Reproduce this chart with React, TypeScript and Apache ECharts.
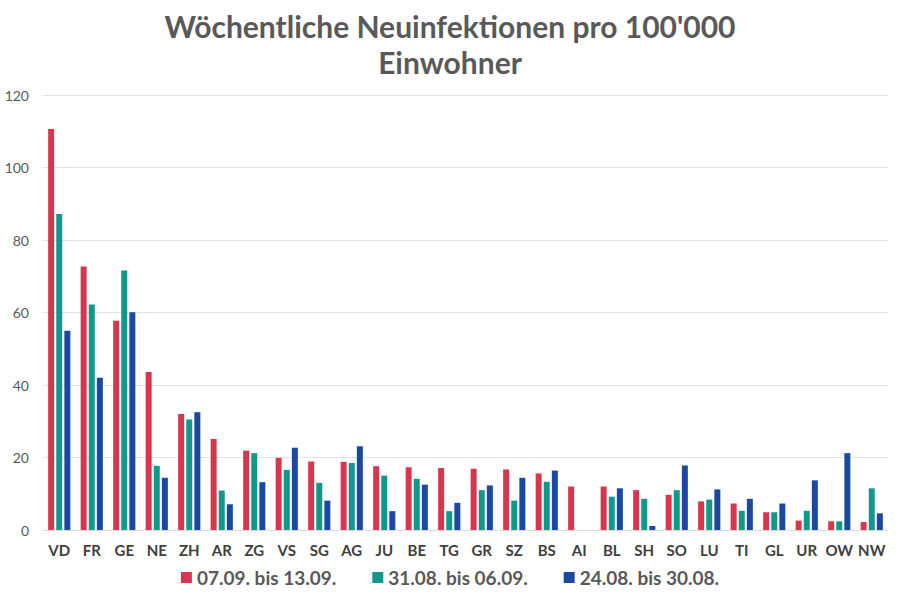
import React, { useEffect, useRef } from "react";
import * as echarts from "echarts";

const categories = ["VD","FR","GE","NE","ZH","AR","ZG","VS","SG","AG","JU","BE","TG","GR","SZ","BS","AI","BL","SH","SO","LU","TI","GL","UR","OW","NW"];
const seriesNames = ["07.09. bis 13.09.", "31.08. bis 06.09.", "24.08. bis 30.08."];
const week1 = [110.6,72.7,57.7,43.6,32.0,25.1,21.9,19.9,18.9,18.8,17.6,17.3,17.1,16.9,16.7,15.6,12.0,12.0,11.0,9.7,7.9,7.3,4.9,2.6,2.4,2.2];
const week2 = [87.2,62.2,71.6,17.7,30.5,10.9,21.2,16.6,13.0,18.5,15.0,14.1,5.2,11.0,8.1,13.3,0,9.2,8.6,11.0,8.4,5.3,4.9,5.3,2.4,11.5];
const week3 = [55.0,42.0,60.1,14.4,32.5,7.1,13.2,22.7,8.1,23.1,5.2,12.5,7.5,12.3,14.4,16.4,0,11.5,1.1,17.8,11.2,8.6,7.3,13.7,21.2,4.6];
const colors = ["#d8364e", "#10998a", "#1b48a1"];

export default function App() {
  const ref = useRef<HTMLDivElement>(null);
  useEffect(() => {
    const chart = echarts.init(ref.current!, undefined, { renderer: "svg" });
    const mk = (name: string, data: number[], i: number) => ({
      name,
      type: "bar",
      data,
      barWidth: 6,
      barGap: "35%",
      itemStyle: { color: colors[i] },
    });
    chart.setOption({
      animation: false,
      backgroundColor: "#ffffff",
      title: {
        text: "Wöchentliche Neuinfektionen pro 100'000\nEinwohner",
        left: "center",
        top: 3,
        textStyle: { fontFamily: "Lato", fontWeight: "bold", fontSize: 30, color: "#595959", lineHeight: 36 },
      },
      legend: {
        bottom: 8,
        left: "center",
        itemWidth: 11,
        itemHeight: 11,
        itemGap: 36,
        icon: "rect",
        textStyle: { fontFamily: "Lato", fontWeight: "bold", fontSize: 19, color: "#595959" },
      },
      grid: { left: 43, right: 12, top: 95, bottom: 70, containLabel: false },
      xAxis: {
        type: "category",
        data: categories,
        axisTick: { show: false },
        axisLine: { lineStyle: { color: "#d9d9d9" } },
        axisLabel: { interval: 0, fontFamily: "Lato", fontWeight: "bold", fontSize: 15, color: "#404040", margin: 12 },
      },
      yAxis: {
        type: "value",
        min: 0,
        max: 120,
        interval: 20,
        axisLine: { show: false },
        axisTick: { show: false },
        splitLine: { lineStyle: { color: "#e3e3e3" } },
        axisLabel: { fontFamily: "Lato", fontSize: 14, color: "#595959", margin: 14 },
      },
      series: [mk(seriesNames[0], week1, 0), mk(seriesNames[1], week2, 1), mk(seriesNames[2], week3, 2)],
    });
    return () => chart.dispose();
  }, []);
  return <div ref={ref} style={{ width: 900, height: 600, position: "absolute", left: 0, top: 0 }} />;
}
